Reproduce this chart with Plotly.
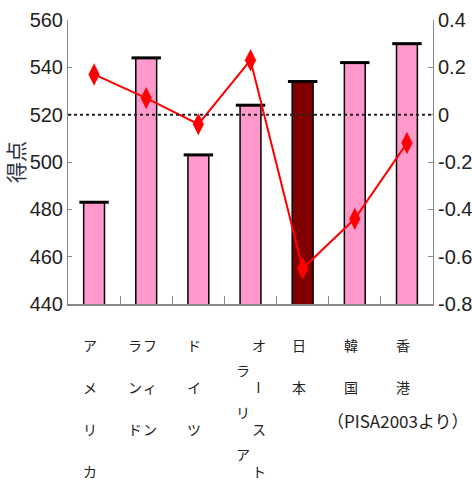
import plotly.graph_objects as go

# ---- data ----
countries = ["アメリカ", "フィンランド", "ドイツ", "オーストラリア", "日本", "韓国", "香港"]
scores = [483, 544, 503, 524, 534, 542, 550]
index_values = [0.17, 0.07, -0.04, 0.23, -0.65, -0.44, -0.12]
left_ticks = [440, 460, 480, 500, 520, 540, 560]
right_ticks = [-0.8, -0.6, -0.4, -0.2, 0, 0.2, 0.4]
right_tick_labels = ["-0.8", "-0.6", "-0.4", "-0.2", "0", "0.2", "0.4"]
reference_score = 520
y_title = "得点"
note = "（PISA2003より）"

# ---- style ----
bar_colors = ["#FF99CC"] * len(countries)
bar_colors[countries.index("日本")] = "#800000"
num_font = "Liberation Sans, Arial, sans-serif"
jp_font = "Noto Sans CJK JP, sans-serif"

# vertical label layout: column lengths (right-to-left) and pixel offsets
col_layout = {
    "フィンランド": dict(split=[3, 3], dx=[4, -11], dy=[0, 0]),
    "オーストラリア": dict(split=[4, 3], dx=[8, -8], dy=[0, 25]),
}
pitch = 42
first = 41

fig = go.Figure()
fig.add_trace(go.Bar(
    x=countries, y=scores, width=0.4,
    marker=dict(color=bar_colors, line=dict(color="black", width=1.5)),
    yaxis="y", hoverinfo="skip", showlegend=False,
))
# thick top edge of bars
fig.add_trace(go.Scatter(
    x=countries, y=scores, mode="markers", yaxis="y",
    marker=dict(symbol="line-ew", size=21, line=dict(color="black", width=3)),
    hoverinfo="skip", showlegend=False,
))
fig.add_trace(go.Scatter(
    x=countries, y=index_values, mode="lines+markers", yaxis="y2",
    line=dict(color="#FF0000", width=2),
    marker=dict(symbol="diamond-tall", size=16, color="#FF0000"),
    hoverinfo="skip", showlegend=False,
))

fig.add_shape(type="line", xref="paper", x0=0, x1=1, yref="y",
              y0=reference_score, y1=reference_score,
              line=dict(color="#222222", width=2, dash="dot"))

annotations = []
for name in countries:
    lay = col_layout.get(name, dict(split=[len(name)], dx=[-4], dy=[0]))
    pos = 0
    for ci, n in enumerate(lay["split"]):
        col = name[pos:pos + n]
        pos += n
        for k, ch in enumerate(col):
            annotations.append(dict(
                x=name, xref="x", y=0, yref="paper",
                xanchor="center", yanchor="middle",
                xshift=lay["dx"][ci],
                yshift=-(first + lay["dy"][ci] + k * pitch),
                text=ch, showarrow=False,
                textangle=90 if ch == "ー" else 0,
                font=dict(family=jp_font, size=14, color="#222222"),
            ))
annotations.append(dict(
    x=0, xref="paper", y=0.5, yref="paper", xanchor="center", yanchor="middle",
    xshift=-53, text=y_title, textangle=-90, showarrow=False,
    font=dict(family=jp_font, size=21, color="#2a3140"),
))
annotations.append(dict(
    x=1, xref="paper", y=0, yref="paper", xanchor="right", yanchor="middle",
    xshift=38, yshift=-116, text=note, showarrow=False,
    font=dict(family=jp_font, size=17, color="#222222"),
))

fig.update_layout(
    width=472, height=490,
    margin=dict(l=68, r=39, t=20, b=186, autoexpand=False),
    paper_bgcolor="white", plot_bgcolor="white",
    bargap=0.6,
    xaxis=dict(
        type="category", range=[-0.5, len(countries) - 0.5],
        showticklabels=False, ticks="inside", tickson="boundaries",
        ticklen=8, tickcolor="#888888", showline=True, linecolor="#888888",
        linewidth=1.5, showgrid=False, zeroline=False, automargin=False,
    ),
    yaxis=dict(
        range=[left_ticks[0], left_ticks[-1]], tickvals=left_ticks,
        ticks="inside", ticklen=4, tickcolor="#888888",
        showline=True, linecolor="#888888", linewidth=1,
        showgrid=False, zeroline=False, automargin=False,
        tickfont=dict(family=num_font, size=20, color="#222222"),
    ),
    yaxis2=dict(
        overlaying="y", side="right",
        range=[right_ticks[0], right_ticks[-1]], tickvals=right_ticks,
        ticktext=right_tick_labels,
        ticks="inside", ticklen=5, tickcolor="#888888",
        showline=True, linecolor="#888888", linewidth=1,
        showgrid=False, zeroline=False, automargin=False,
        tickfont=dict(family=num_font, size=20, color="#222222"),
    ),
    annotations=annotations,
)

fig.write_html("out.html")
